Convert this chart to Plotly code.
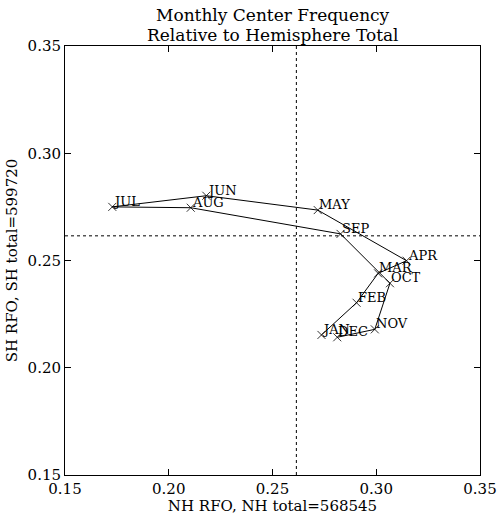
import plotly.graph_objects as go

months = ["JAN", "FEB", "MAR", "APR", "MAY", "JUN", "JUL", "AUG", "SEP", "OCT", "NOV", "DEC"]
nh_rfo = [0.2736, 0.2905, 0.3009, 0.3146, 0.2718, 0.2181, 0.1728, 0.2106, 0.2828, 0.3066, 0.2993, 0.2812]
sh_rfo = [0.2153, 0.2303, 0.2440, 0.2499, 0.2735, 0.2802, 0.2750, 0.2746, 0.2624, 0.2394, 0.2179, 0.2142]
nh_mean = 0.2615
sh_mean = 0.2615
title_lines = ["Monthly Center Frequency", "Relative to Hemisphere Total"]
x_title = "NH RFO, NH total=568545"
y_title = "SH RFO, SH total=599720"
tick_vals = [0.15, 0.20, 0.25, 0.30, 0.35]
tick_text = ["0.15", "0.20", "0.25", "0.30", "0.35"]

FONT = "DejaVu Serif"

fig = go.Figure()
fig.add_trace(go.Scatter(
    x=nh_rfo, y=sh_rfo, mode="lines+markers",
    line=dict(color="black", width=1),
    marker=dict(symbol="x-thin", size=8, line=dict(color="black", width=0.8), color="black"),
    showlegend=False, hoverinfo="skip",
))

for m, xv, yv in zip(months, nh_rfo, sh_rfo):
    fig.add_annotation(x=xv, y=yv, text=m, showarrow=False, xanchor="left", yanchor="bottom",
                       xshift=-1, yshift=-4, font=dict(family=FONT, size=13, color="black"))

for i, line in enumerate(title_lines):
    fig.add_annotation(x=0.5, y=1, xref="paper", yref="paper", text=line, showarrow=False,
                       xanchor="center", yanchor="bottom", yshift=(len(title_lines) - 1 - i) * 20 - 1,
                       font=dict(family=FONT, size=17, color="black"))

fig.add_shape(type="line", x0=nh_mean, x1=nh_mean, y0=0, y1=1, xref="x", yref="paper",
              line=dict(color="black", width=1, dash="dot"))
fig.add_shape(type="line", y0=sh_mean, y1=sh_mean, x0=0, x1=1, yref="y", xref="paper",
              line=dict(color="black", width=1, dash="dot"))

axis_common = dict(
    range=[0.15, 0.35], tickvals=tick_vals, ticktext=tick_text,
    ticks="inside", ticklen=6, tickcolor="black", tickwidth=1,
    showline=True, linecolor="black", linewidth=1, mirror="allticks",
    showgrid=False, zeroline=False, automargin=False,
    tickfont=dict(family=FONT, size=15, color="black"),
)

fig.update_layout(
    width=498, height=515,
    margin=dict(l=65, r=18, t=46, b=40),
    paper_bgcolor="white", plot_bgcolor="white",
    xaxis=dict(**axis_common, title=dict(text=x_title, standoff=4,
               font=dict(family=FONT, size=15, color="black"))),
    yaxis=dict(**axis_common, title=dict(text=y_title, standoff=6,
               font=dict(family=FONT, size=15, color="black"))),
)

fig.write_html("out.html")
